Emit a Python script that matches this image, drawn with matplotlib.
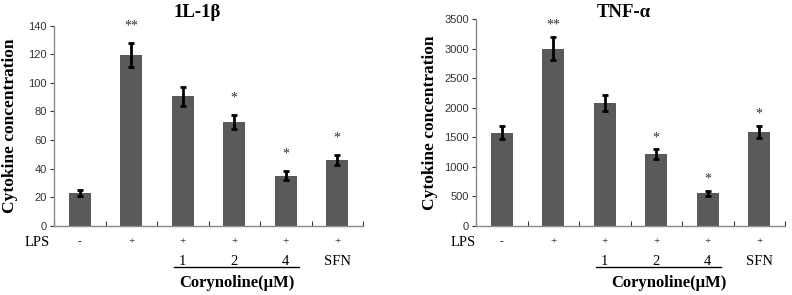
import matplotlib.pyplot as plt
from matplotlib import transforms

# data
lps = ['-', '+', '+', '+', '+', '+']
dose = ['', '', '1', '2', '4', 'SFN']

il1b_mean = [23, 119.5, 90.5, 72.5, 35, 46]
il1b_err = [2, 8.5, 6.5, 5, 3, 3.5]
il1b_sig = ['', '**', '', '*', '*', '*']

tnf_mean = [1575, 3000, 2075, 1210, 545, 1590]
tnf_err = [110, 200, 140, 80, 40, 105]
tnf_sig = ['', '**', '', '*', '*', '*']

serif = 'Liberation Serif'
bar_color = '#5a5a5a'
spine_color = '#8a8a8a'

fig = plt.figure(figsize=(7.92, 2.95), dpi=100)
ax1 = fig.add_axes([54 / 792, 0.235, 309 / 792, 200 / 295])
ax2 = fig.add_axes([476 / 792, 0.235, 309 / 792, 206.7 / 295])


def draw_panel(ax, mean, err, sig, title, ymax, ystep, star_off,
               title_x, ylab_x, lps_x, coryn_x):
    x = list(range(len(mean)))
    ax.bar(x, mean, width=0.42, color=bar_color, zorder=2)
    ax.errorbar(x, mean, yerr=err, fmt='none', ecolor='black',
                elinewidth=2, capsize=2.5, capthick=2, zorder=3)
    for i, s in enumerate(sig):
        if s:
            ax.text(i, mean[i] + err[i] + star_off, s, ha='center', va='center',
                    fontsize=10, family=serif, color='#333333')

    ax.set_xlim(-0.5, 5.5)
    ax.set_ylim(0, ymax)
    ax.set_yticks(range(0, ymax + 1, ystep))
    ax.set_xticks([i + 0.5 for i in range(-1, 6)])
    ax.set_xticklabels([])
    ax.tick_params(axis='x', direction='in', length=3.5, color='#333333', width=0.8)
    ax.tick_params(axis='y', direction='out', length=3, color='#333333', width=0.8,
                   labelsize=8, labelcolor='#333333', pad=2)
    for lab in ax.get_yticklabels():
        lab.set_family('Liberation Sans')
    for side in ['top', 'right']:
        ax.spines[side].set_visible(False)
    for side in ['left', 'bottom']:
        ax.spines[side].set_color(spine_color)
        ax.spines[side].set_linewidth(1)

    ax.set_ylabel('Cytokine concentration', family=serif, fontweight='bold', fontsize=12.5)
    ax.yaxis.set_label_coords(ylab_x, 0.5)
    trans_t = transforms.blended_transform_factory(ax.transAxes, fig.transFigure)
    ax.text(title_x, 0.956, title, transform=trans_t, ha='center', va='center',
            family=serif, fontweight='bold', fontsize=13.5)

    # treatment rows under the axis
    trans = transforms.blended_transform_factory(ax.transData, fig.transFigure)
    ax.text(lps_x, 0.178, 'LPS', transform=trans, ha='center', va='center',
            family=serif, fontsize=10.5)
    for i, s in enumerate(lps):
        ax.text(i, 0.180, s, transform=trans, ha='center', va='center',
                family=serif, fontsize=8)
    for i, s in enumerate(dose):
        if s:
            ax.text(i, 0.115, s, transform=trans, ha='center', va='center',
                    family=serif, fontsize=10.5)
    ax.plot([1.83, 4.25], [0.094, 0.094], transform=trans, color='black',
            lw=1, clip_on=False)
    ax.text(coryn_x, 0.040, 'Corynoline(\u03bcM)', transform=trans, ha='center',
            va='center', family=serif, fontweight='bold', fontsize=12)


draw_panel(ax1, il1b_mean, il1b_err, il1b_sig, '1L-1\u03b2', 140, 20, 12,
           0.463, -0.117, -0.83, 3.05)
draw_panel(ax2, tnf_mean, tnf_err, tnf_sig, 'TNF-\u03b1', 3500, 500, 200,
           0.479, -0.123, -0.75, 3.25)

fig.savefig('out.png', dpi=100)
